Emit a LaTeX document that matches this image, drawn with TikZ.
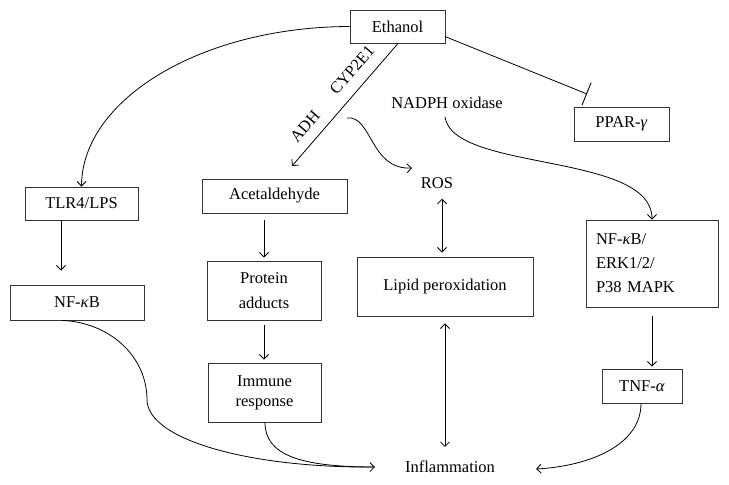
\documentclass[tikz,border=0pt]{standalone}
\usepackage{fontspec}
\setmainfont{Liberation Serif}
\usetikzlibrary{arrows.meta}
\begin{document}
\begin{tikzpicture}[x=1pt,y=-1pt,
  box/.style={draw=black!80, line width=0.9pt, inner sep=0pt, align=center, font=\fontsize{16.5}{25}\selectfont},
  lbl/.style={inner sep=0pt, font=\fontsize{16.5}{24}\selectfont},
  conn/.style={line width=0.8pt, -{Straight Barb[length=4.5pt,width=9pt]}},
  plain/.style={line width=0.8pt},
  biconn/.style={line width=0.8pt, {Straight Barb[length=4.5pt,width=9pt]}-{Straight Barb[length=4.5pt,width=9pt]}},
  inhib/.style={line width=0.8pt, -{Bar[width=24pt,line width=0.9pt]}}
]
\useasboundingbox (0,0) rectangle (729,485);
\fill[white] (0,0) rectangle (729,485);

% boxes
\node[box, minimum width=95pt, minimum height=33pt] (eth) at (397.5,26.5) {Ethanol};
\node[box, minimum width=113pt, minimum height=33pt] (tlr) at (81.5,203.5) {TLR4/LPS};
\node[box, minimum width=145pt, minimum height=34pt] (acet) at (274.5,196) {Acetaldehyde};
\node[box, minimum width=134pt, minimum height=35pt] (nfkb) at (77,302.5) {NF-\textit{κ}B};
\node[box, minimum width=114pt, minimum height=59pt] (prot) at (264,290.5) {Protein\\adducts};
\node[box, minimum width=113pt, minimum height=59pt, font=\fontsize{16.5}{20}\selectfont] (imm) at (264.5,392.5) {Immune\\response};
\node[box, minimum width=176pt, minimum height=59pt] (lipid) at (445,286.5) {Lipid peroxidation};
\node[box, minimum width=132pt, minimum height=87pt, text width=112pt, align=left, inner xsep=10pt, font=\fontsize{16.5}{24}\selectfont] (nfe) at (652,263.5) {NF-\textit{κ}B/\\ERK1/2/\\P38 MAPK};
\node[box, minimum width=80pt, minimum height=34pt] (tnf) at (642,386) {TNF-\textit{α}};
\node[box, minimum width=95pt, minimum height=34pt] (ppar) at (621.5,124) {PPAR-\textit{γ}};

% free labels
\node[lbl] (ros) at (437,183) {ROS};
\node[lbl] (nadph) at (447,103) {NADPH oxidase};
\node[lbl] (infl) at (450,467) {Inflammation};
\node[lbl, rotate=49.3] (adh) at (305,126) {ADH};
\node[lbl, rotate=49.3] (cyp) at (352,70) {CYP2E1};

% free ends
\coordinate (acetin) at (292,166);
\coordinate (rosfrom) at (347,118);
\coordinate (rosin) at (412,168);
\coordinate (nadfrom) at (445,117);
\coordinate (pparbar) at (587,94);
\coordinate (inflL) at ([xshift=-30pt]infl.west);
\coordinate (inflR) at ([xshift=41pt,yshift=-2pt]infl.east);

% connectors
\draw[conn] (eth.west) .. controls (200,27) and (82,100) .. (tlr.north);
\draw[conn] ([xshift=0.5pt]eth.south) -- (acetin);
\draw[conn] (rosfrom) .. controls (372,115) and (370,170) .. (rosin);
\draw[conn] (nadfrom) .. controls (453,172) and (652,152) .. (nfe.north);
\draw[inhib] (eth.-12.5) -- (pparbar);

\draw[conn] ([xshift=-20.5pt]tlr.south) -- ([xshift=-16pt,yshift=14pt]nfkb.north);
\draw[conn] ([xshift=-10.5pt,yshift=-7pt]acet.south) -- ([yshift=3pt]prot.north);
\draw[conn] ([yshift=-5pt]prot.south) -- ([xshift=-0.5pt,yshift=3pt]imm.north);
\draw[biconn] ([xshift=5pt,yshift=-10pt]ros.south) -- ([xshift=-3pt,yshift=4pt]lipid.north);
\draw[biconn] ([yshift=-7pt]lipid.south) -- ([xshift=-5pt,yshift=14pt]infl.north);
\draw[conn] ([yshift=-9pt]nfe.south) -- ([xshift=10pt,yshift=2pt]tnf.north);

\draw[conn] ([xshift=-1pt]tnf.south) .. controls (641,445) and (590,466) .. (inflR);
\draw[conn] ([xshift=-15pt]nfkb.south) .. controls (108,322) and (147,355) .. (147,400)
  .. controls (148,440) and (250,468) .. (inflL);
\draw[plain] ([xshift=0.5pt]imm.south) .. controls (265,455) and (300,467) .. (inflL);
\end{tikzpicture}
\end{document}
